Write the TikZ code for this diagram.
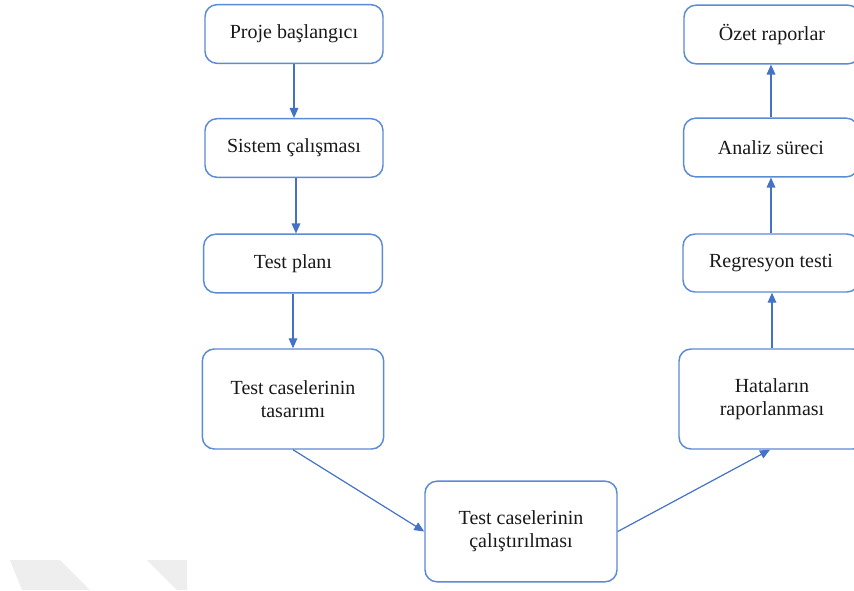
\documentclass[tikz,border=0pt]{standalone}
\usepackage{fontspec}
\setmainfont{Liberation Serif}
\usetikzlibrary{arrows.meta}
\definecolor{boxline}{HTML}{5B8BD6}
\definecolor{arrowline}{HTML}{4472C4}
\definecolor{wmgray}{HTML}{EEEEEE}
\tikzset{
  stage/.style={draw=boxline, line width=1.1pt, rounded corners=9pt, fill=white,
    inner sep=0pt, align=center, text=black!90,
    font=\fontsize{15}{17.5}\selectfont},
  flow/.style={draw=arrowline, line width=0.9pt,
    -{Triangle[length=7.5pt,width=6.5pt]}},
}
\begin{document}
\begin{tikzpicture}[x=0.75pt,y=-0.75pt]
\useasboundingbox (0,0) rectangle (854,590);
\begin{scope}
\clip (0,0) rectangle (854,590);
% faint background shapes
\fill[wmgray] (10,560) -- (60,560) -- (90,590) -- (22,590) -- cycle;
\fill[wmgray] (147,560) -- (187,560) -- (187,590) -- (177,590) -- cycle;

% left column
\node[stage, minimum width=133.5pt, minimum height=44pt] (p1) at (294,34) {Proje başlangıcı};
\node[stage, minimum width=133.5pt, minimum height=44pt] (p2) at (294,148) {Sistem çalışması};
\node[stage, minimum width=134pt, minimum height=44pt] (p3) at (293,263.5) {Test planı};
\node[stage, minimum width=136pt, minimum height=75pt] (p4) at (293,399) {Test caselerinin\\tasarımı};
% bottom
\node[stage, minimum width=144pt, minimum height=75.5pt] (p5) at (521,531.5) {Test caselerinin\\çalıştırılması};
% right column
\node[stage, minimum width=139.5pt, minimum height=75pt] (p6) at (772,399) {Hataların\\raporlanması};
\node[stage, minimum width=132pt, minimum height=43.5pt] (p7) at (771,263) {Regresyon testi};
\node[stage, minimum width=131pt, minimum height=44pt] (p8) at (771,147.5) {Analiz süreci};
\node[stage, minimum width=132pt, minimum height=44pt] (p9) at (772,34.5) {Özet raporlar};

% connectors
\draw[flow] (p1.south) -- (p2.north);
\draw[flow] ([xshift=1.5pt]p2.south) -- ([xshift=1.5pt]p2.south |- p3.north);
\draw[flow] (p3.south) -- (p4.north);
\draw[flow] (p4.south) -- (p5.west);
\draw[flow] (p5.east) -- ([xshift=-1.5pt]p6.south);
\draw[flow] (p6.north) -- (p6.north |- p7.south);
\draw[flow] (p7.north) -- (p7.north |- p8.south);
\draw[flow] (p8.north) -- (p8.north |- p9.south);
\end{scope}
\end{tikzpicture}
\end{document}
